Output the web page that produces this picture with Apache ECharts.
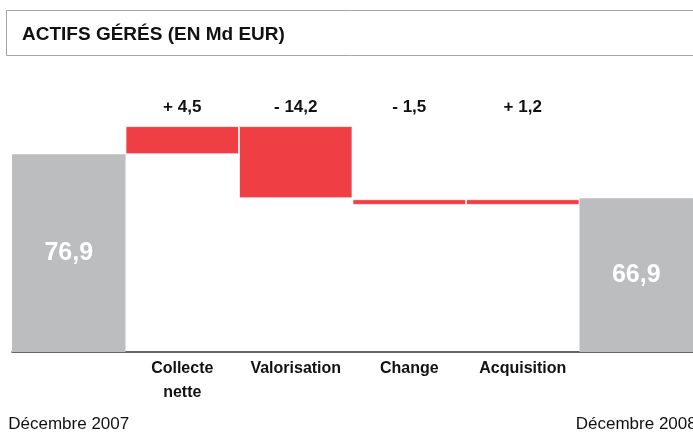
<!DOCTYPE html>
<html>
<head>
<meta charset="utf-8">
<script src="https://cdn.jsdelivr.net/npm/echarts@6/dist/echarts.min.js"></script>
<style>
  html, body { margin: 0; padding: 0; background: #fff; }
  #main { width: 693px; height: 435px; }
</style>
</head>
<body>
<div id="main"></div>
<script>
// categories (bas de l'axe)
var categories = ['Décembre 2007', 'Collecte\nnette', 'Valorisation', 'Change', 'Acquisition', 'Décembre 2008'];
// libellés des variations (en haut)
var deltaLabels = ['', '+ 4,5', '- 14,2', '- 1,5', '+ 1,2', ''];
// libellés des totaux
var totalLabels = ['76,9', '', '', '', '', '66,9'];
// bas et haut de chaque barre
var barLow = [32, 76.9, 66.9, 65.4, 65.4, 32];
var barHigh = [76.9, 83.3, 83.3, 66.7, 66.7, 66.9];
var isTotal = [true, false, false, false, false, true];

var sans = "'Liberation Sans', Arial, sans-serif";

var myChart = echarts.init(document.getElementById('main'));

var baseData = barLow.slice();
var valueData = barHigh.map(function (h, i) {
    var item = { value: +(h - barLow[i]).toFixed(2) };
    if (isTotal[i]) {
        item.itemStyle = { color: '#bcbdbf', borderWidth: 0 };
        item.label = { show: true, formatter: totalLabels[i] };
    }
    return item;
});

var option = {
    animation: false,
    title: {
        text: 'ACTIFS GÉRÉS (EN Md EUR)',
        left: 22,
        top: 25,
        padding: 0,
        textStyle: { fontFamily: sans, fontWeight: 'bold', fontSize: 19, color: '#111' }
    },
    graphic: [{
        type: 'rect',
        shape: { x: 6.5, y: 10.5, width: 720, height: 45 },
        style: { fill: 'none', stroke: '#a6a6a6', lineWidth: 1 },
        silent: true
    }],
    grid: { left: 12, right: 0, top: 123, bottom: 83, containLabel: false, outerBoundsMode: 'none' },
    xAxis: [{
        type: 'category',
        position: 'bottom',
        data: categories,
        axisLine: { lineStyle: { color: '#333', width: 1.5 } },
        axisTick: { show: false },
        axisLabel: {
            interval: 0,
            margin: 5,
            formatter: function (val, idx) {
                if (idx === 0 || idx === categories.length - 1) return '{e| }\n{d|' + val + '}';
                return val.split('\n').map(function (s) { return '{b|' + s + '}'; }).join('\n');
            },
            rich: {
                b: { fontFamily: sans, fontWeight: 'bold', fontSize: 16, lineHeight: 24, color: '#111' },
                e: { fontSize: 10, lineHeight: 57 },
                d: { fontFamily: sans, fontSize: 17, lineHeight: 20, color: '#111' }
            }
        }
    }, {
        type: 'category',
        position: 'top',
        data: deltaLabels,
        axisLine: { show: false },
        axisTick: { show: false },
        axisLabel: {
            interval: 0,
            margin: 7,
            fontFamily: sans,
            fontWeight: 'bold',
            fontSize: 17,
            color: '#111'
        }
    }],
    yAxis: {
        type: 'value',
        min: 32,
        max: 84,
        show: false,
        splitLine: { show: false }
    },
    series: [{
        type: 'bar',
        stack: 'wf',
        barCategoryGap: '0%',
        itemStyle: { color: 'transparent' },
        data: baseData,
        silent: true
    }, {
        type: 'bar',
        stack: 'wf',
        barCategoryGap: '0%',
        itemStyle: { color: '#ef3e44', borderColor: 'rgba(255,255,255,0.7)', borderWidth: 1 },
        label: {
            show: false,
            position: 'inside',
            fontFamily: sans,
            fontWeight: 'bold',
            fontSize: 25,
            color: '#fff'
        },
        data: valueData
    }]
};

myChart.setOption(option);
</script>
</body>
</html>
